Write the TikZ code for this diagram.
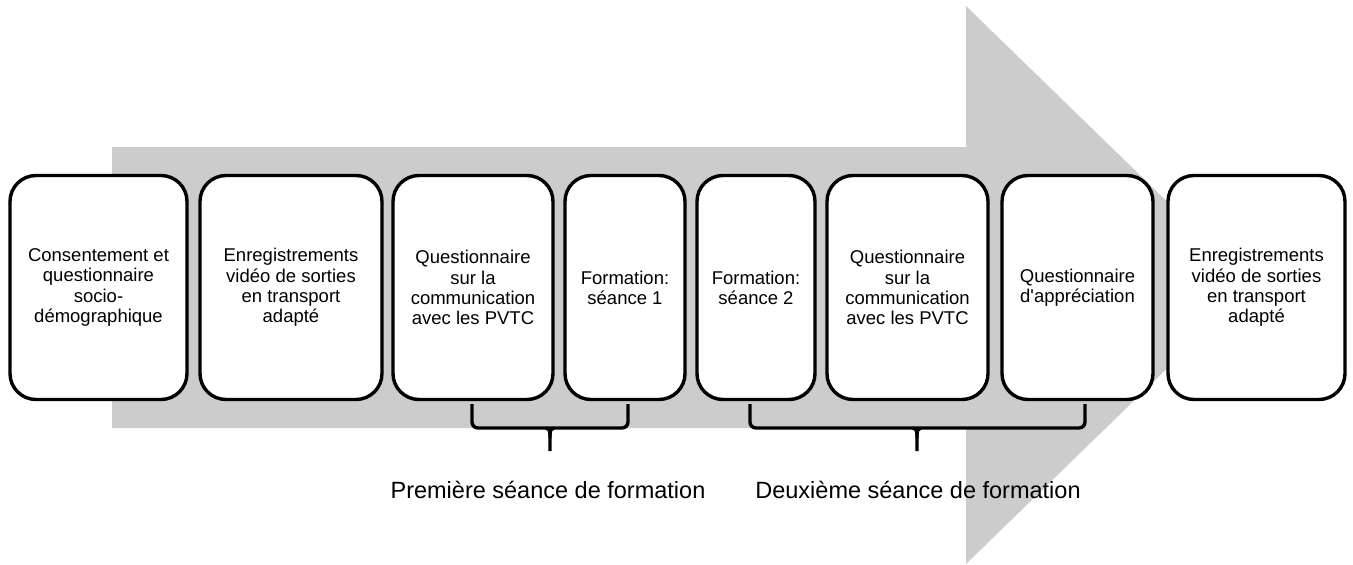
\documentclass[tikz,border=0pt]{standalone}
\usepackage{fontspec}
\setmainfont{Liberation Sans}[Ligatures=TeXOff]
\definecolor{arrowgray}{HTML}{CCCCCC}
\tikzset{
  stepbox/.style={draw=black, line width=3.4pt, fill=white, rounded corners=26pt,
    minimum height=224pt, align=center, inner sep=2pt,
    font=\fontsize{18.5}{20.2}\selectfont},
  bracket/.style={draw=black, line width=3.4pt, rounded corners=6pt},
  seancelabel/.style={font=\fontsize{23.5}{26}\selectfont, inner sep=0pt}
}
\begin{document}
\begin{tikzpicture}[x=1pt,y=-1pt]
\useasboundingbox (0,0) rectangle (1353,565);
\fill[arrowgray] (112,147) -- (966,147) -- (966,6) -- (1253,285) -- (966,564) -- (966,428) -- (112,428) -- cycle;
\node[stepbox, minimum width=177pt] (b1) at (98.5,287.5) {Consentement et\\questionnaire\\socio-\\démographique};
\node[stepbox, minimum width=182pt] (b2) at (291,287.5) {Enregistrements\\vidéo de sorties\\en transport\\adapté};
\node[stepbox, minimum width=160pt] (b3) at (473,287.5) {Questionnaire\\sur la\\communication\\avec les PVTC};
\node[stepbox, minimum width=120pt] (b4) at (625,287.5) {Formation:\\séance 1};
\node[stepbox, minimum width=118pt] (b5) at (756,287.5) {Formation:\\séance 2};
\node[stepbox, minimum width=161pt] (b6) at (907.5,287.5) {Questionnaire\\sur la\\communication\\avec les PVTC};
\node[stepbox, minimum width=151pt] (b7) at (1077.5,287.5) {Questionnaire\\d'appréciation};
\node[stepbox, minimum width=177pt] (b8) at (1256.5,287.5) {Enregistrements\\vidéo de sorties\\en transport\\adapté};
% bracket 1
\coordinate (p1l) at (472,404);
\coordinate (p1r) at (628,404);
\coordinate (p1t) at (550,451);
\draw[bracket] (p1l) -- (472,428) -- (550,428);
\draw[bracket] (p1r) -- (628,428) -- (550,428);
\draw[line width=3.4pt] (546,428) .. controls (550,430) .. (550,438) -- (p1t);
\draw[line width=3.4pt] (554,428) .. controls (550,430) .. (550,438);
% bracket 2
\coordinate (p2l) at (750,404);
\coordinate (p2r) at (1085,404);
\coordinate (p2t) at (917,451);
\draw[bracket] (p2l) -- (750,428) -- (917,428);
\draw[bracket] (p2r) -- (1085,428) -- (917,428);
\draw[line width=3.4pt] (913,428) .. controls (917,430) .. (917,438) -- (p2t);
\draw[line width=3.4pt] (921,428) .. controls (917,430) .. (917,438);
\node[seancelabel] (l1) at (548,490) {Première séance de formation};
\node[seancelabel] (l2) at (918,490) {Deuxième séance de formation};
\end{tikzpicture}
\end{document}
